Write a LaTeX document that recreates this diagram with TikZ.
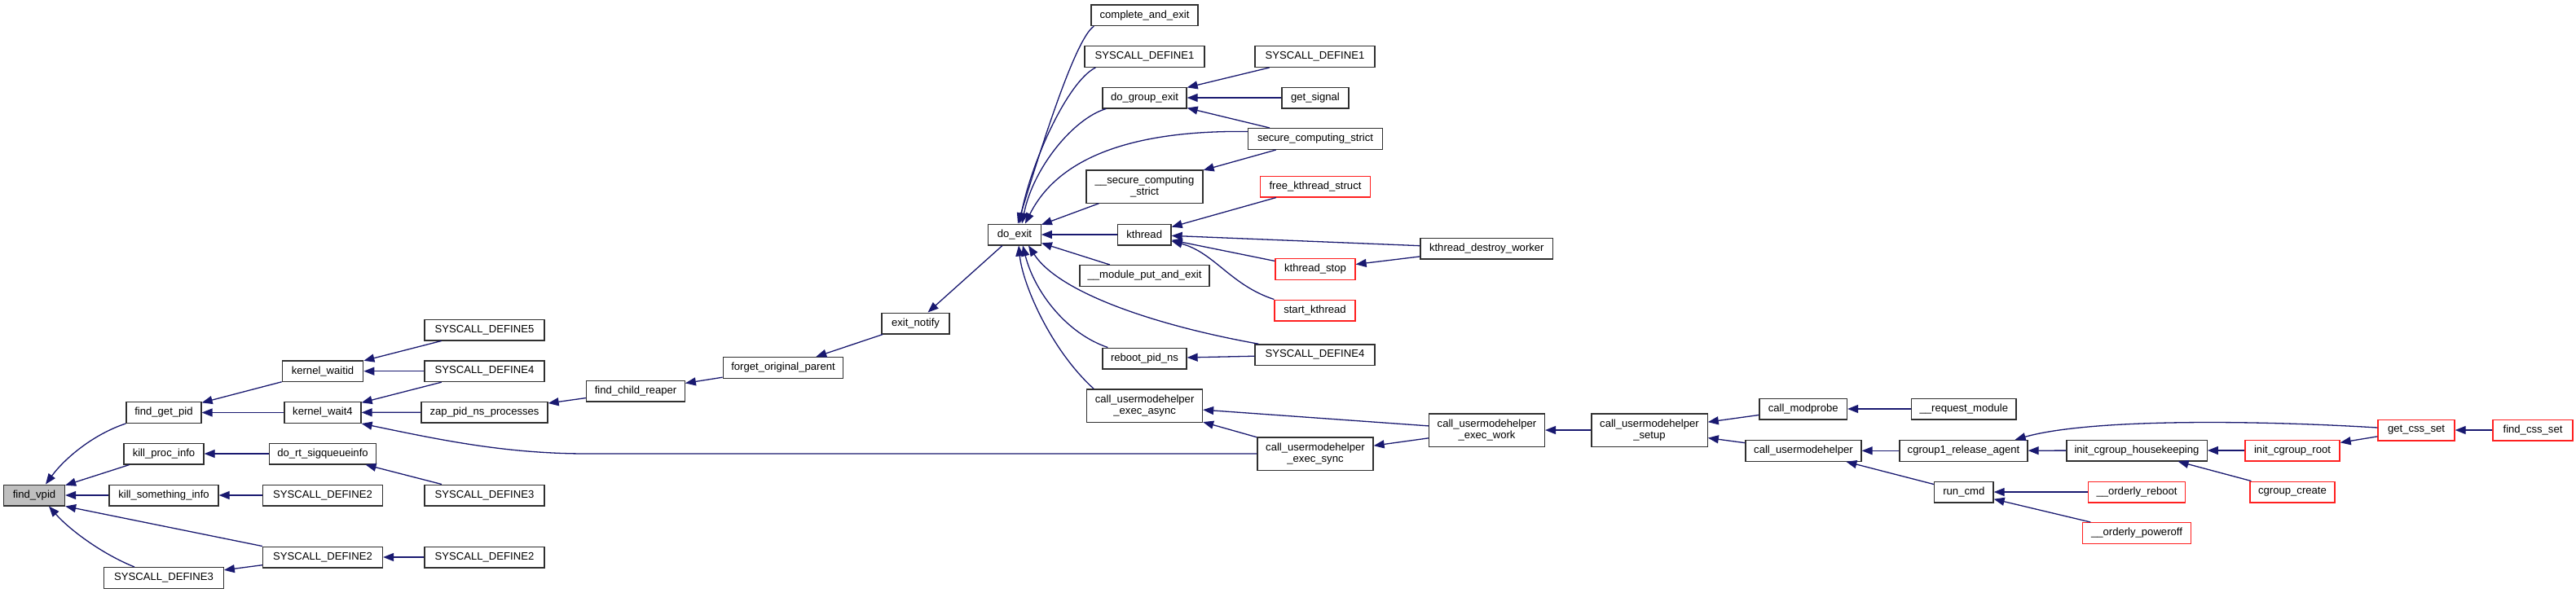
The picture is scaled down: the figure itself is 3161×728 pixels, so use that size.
\documentclass[tikz,border=0pt]{standalone}
\usepackage{fontspec}
\setmainfont{Liberation Sans}
\usetikzlibrary{arrows.meta,calc}
\definecolor{edgeblue}{HTML}{191970}
\definecolor{nodegray}{HTML}{BFBFBF}
\definecolor{trunc}{HTML}{FF2020}
\definecolor{nodeborder}{HTML}{303030}
\begin{document}
\begin{tikzpicture}[x=1pt,y=-1pt,
  fn/.style={draw=nodeborder, line width=1.3pt, fill=white, inner sep=0pt,
    minimum height=25.7pt, font=\fontsize{13.1}{14.5}\selectfont, align=center},
  tr/.style={fn, draw=trunc},
  cur/.style={fn, fill=nodegray},
  tall/.style={minimum height=40.3pt},
  edge/.style={draw=edgeblue, line width=1.3pt, -{Triangle[length=13pt,width=10pt]}}]
\useasboundingbox (0,0) rectangle (3161,728);
\fill[white] (0,0) rectangle (3161,728);

% nodes
\node[cur, minimum width=75pt] (vpid) at (42,608) {find\_vpid};
\node[fn, minimum width=92pt] (getpid) at (201,506.5) {find\_get\_pid};
\node[fn, minimum width=98pt] (killproc) at (201,557) {kill\_proc\_info};
\node[fn, minimum width=134pt] (killsome) at (201,608) {kill\_something\_info};
\node[fn, minimum width=146.5pt] (sd3a) at (201,709.5) {SYSCALL\_DEFINE3};
\node[fn, minimum width=99.5pt] (waitid) at (396,455.7) {kernel\_waitid};
\node[fn, minimum width=94pt] (wait4) at (396,506.5) {kernel\_wait4};
\node[fn, minimum width=131pt] (rtsig) at (396,557) {do\_rt\_sigqueueinfo};
\node[fn, minimum width=147pt] (sd2a) at (396,608) {SYSCALL\_DEFINE2};
\node[fn, minimum width=147pt] (sd2b) at (396,684) {SYSCALL\_DEFINE2};
\node[fn, minimum width=147pt] (sd5) at (594.5,405) {SYSCALL\_DEFINE5};
\node[fn, minimum width=147pt] (sd4a) at (594.5,455.7) {SYSCALL\_DEFINE4};
\node[fn, minimum width=155pt] (zap) at (594.5,506) {zap\_pid\_ns\_processes};
\node[fn, minimum width=147pt] (sd3b) at (594.5,608) {SYSCALL\_DEFINE3};
\node[fn, minimum width=147pt] (sd2c) at (594.5,684) {SYSCALL\_DEFINE2};
\node[fn, minimum width=120.5pt] (reaper) at (780,480) {find\_child\_reaper};
\node[fn, minimum width=147.5pt] (forget) at (961,451.5) {forget\_original\_parent};
\node[fn, minimum width=83pt] (notify) at (1123.5,397) {exit\_notify};
\node[fn, minimum width=64.5pt] (doexit) at (1245,288) {do\_exit};
\node[fn, minimum width=131pt] (complete) at (1404.5,18.7) {complete\_and\_exit};
\node[fn, minimum width=147pt] (sd1a) at (1404.5,69.5) {SYSCALL\_DEFINE1};
\node[fn, minimum width=103pt] (groupexit) at (1404.5,120) {do\_group\_exit};
\node[fn, tall, minimum width=143pt] (usecstrict) at (1404.5,229) {\_\_secure\_computing\\\_strict};
\node[fn, minimum width=65.6pt] (kthread) at (1404.2,288) {kthread};
\node[fn, minimum width=159pt] (modput) at (1404.5,338.5) {\_\_module\_put\_and\_exit};
\node[fn, minimum width=103pt] (reboot) at (1404.5,440) {reboot\_pid\_ns};
\node[fn, tall, minimum width=141.8pt] (async) at (1404.6,498) {call\_usermodehelper\\\_exec\_async};
\node[fn, minimum width=147pt] (sd1b) at (1613.5,69.5) {SYSCALL\_DEFINE1};
\node[fn, minimum width=82pt] (getsignal) at (1614,120) {get\_signal};
\node[fn, minimum width=164.4pt] (secstrict) at (1614,170.5) {secure\_computing\_strict};
\node[tr, minimum width=135.6pt] (freekt) at (1614,229) {free\_kthread\_struct};
\node[tr, minimum width=98pt] (ktstop) at (1614,330.5) {kthread\_stop};
\node[tr, minimum width=99pt] (startkt) at (1613.5,381) {start\_kthread};
\node[fn, minimum width=147pt] (sd4b) at (1613.5,435.7) {SYSCALL\_DEFINE4};
\node[fn, tall, minimum width=142pt] (sync) at (1614,557) {call\_usermodehelper\\\_exec\_sync};
\node[fn, minimum width=162.6pt] (ktdestroy) at (1824.3,305) {kthread\_destroy\_worker};
\node[fn, tall, minimum width=141.8pt] (work) at (1824.5,528) {call\_usermodehelper\\\_exec\_work};
\node[fn, tall, minimum width=142.3pt] (setup) at (2024,528) {call\_usermodehelper\\\_setup};
\node[fn, minimum width=107.5pt] (modprobe) at (2212.7,502) {call\_modprobe};
\node[fn, minimum width=142pt] (umh) at (2213,553.3) {call\_usermodehelper};
\node[fn, minimum width=128.5pt] (reqmod) at (2409.8,502) {\_\_request\_module};
\node[fn, minimum width=157pt] (cg1rel) at (2409.5,553.3) {cgroup1\_release\_agent};
\node[fn, minimum width=72.4pt] (runcmd) at (2409.8,604) {run\_cmd};
\node[fn, minimum width=172.3pt] (housekeep) at (2622,553) {init\_cgroup\_housekeeping};
\node[tr, minimum width=119.5pt] (oreboot) at (2622,604) {\_\_orderly\_reboot};
\node[tr, minimum width=132.5pt] (opoweroff) at (2622,654.5) {\_\_orderly\_poweroff};
\node[tr, minimum width=116pt] (cgroot) at (2813,553) {init\_cgroup\_root};
\node[tr, minimum width=104pt] (cgcreate) at (2813,604) {cgroup\_create};
\node[tr, minimum width=94pt] (getcss) at (2965,528) {get\_css\_set};
\node[tr, minimum width=98pt] (findcss) at (3108,528) {find\_css\_set};

% edges (arrow at the callee)
\draw[edge] (getpid.south west) .. controls (115,533) and (80,562) .. ($(vpid.north)+(14,0)$);
\draw[edge] (killproc) -- (vpid);
\draw[edge] (killsome) -- (vpid);
\draw[edge] (sd2b.north west) -- (vpid.south east);
\draw[edge] ($(sd3a.north)+(-36,0)$) .. controls (125,680) and (85,650) .. ($(vpid.south)+(18,0)$);
\draw[edge] (waitid) -- (getpid);
\draw[edge] (wait4) -- (getpid);
\draw[edge] (rtsig) -- (killproc);
\draw[edge] (sd2a) -- (killsome);
\draw[edge] (sd2b) -- (sd3a);
\draw[edge] (sd5) -- (waitid);
\draw[edge] (sd4a) -- (waitid);
\draw[edge] (sd4a) -- (wait4);
\draw[edge] (zap) -- (wait4);
\draw[edge] (sync.west) -- (720,557) .. controls (620,557) and (540,540) .. (wait4.south east);
\draw[edge] (sd3b) -- (rtsig);
\draw[edge] (sd2c) -- (sd2b);
\draw[edge] (reaper) -- (zap);
\draw[edge] (forget) -- (reaper);
\draw[edge] (notify) -- (forget);
\draw[edge] (doexit) -- (notify);
\draw[edge] ($(complete.south west)+(4,0)$) .. controls (1318,48) and (1272,200) .. ($(doexit.north)+(4,0)$);
\draw[edge] ($(sd1a.south west)+(14,0)$) .. controls (1310,100) and (1265,200) .. ($(doexit.north)+(6,0)$);
\draw[edge] ($(groupexit.south west)+(5,0)$) .. controls (1318,145) and (1268,205) .. ($(doexit.north)+(9,0)$);
\draw[edge] ($(secstrict.west)+(0,-9)$) .. controls (1420,160) and (1305,180) .. ($(doexit.north)+(13,0)$);
\draw[edge] (usecstrict) -- (doexit);
\draw[edge] (kthread) -- (doexit);
\draw[edge] (modput) -- (doexit);
\draw[edge] ($(sd4b.north west)+(5,0)$) .. controls (1420,400) and (1300,360) .. ($(doexit.south)+(17,0)$);
\draw[edge] ($(reboot.north west)+(7,0)$) .. controls (1310,410) and (1270,360) .. ($(doexit.south)+(10,0)$);
\draw[edge] ($(async.north west)+(9,0)$) .. controls (1290,430) and (1255,350) .. ($(doexit.south)+(5,0)$);
\draw[edge] (sd1b) -- (groupexit);
\draw[edge] (getsignal) -- (groupexit);
\draw[edge] (secstrict) -- (groupexit);
\draw[edge] (secstrict) -- (usecstrict);
\draw[edge] (freekt) -- (kthread);
\draw[edge] (ktdestroy) -- (kthread);
\draw[edge] (ktstop) -- (kthread);
\draw[edge] (startkt.north west) .. controls (1510,350) and (1490,310) .. ($(kthread.east)+(0,8)$);
\draw[edge] (ktdestroy) -- (ktstop);
\draw[edge] (sd4b) -- (reboot);
\draw[edge] (work) -- (async);
\draw[edge] (sync) -- (async);
\draw[edge] (work) -- (sync);
\draw[edge] (setup) -- (work);
\draw[edge] (modprobe) -- (setup);
\draw[edge] (umh) -- (setup);
\draw[edge] (reqmod) -- (modprobe);
\draw[edge] (cg1rel) -- (umh);
\draw[edge] (runcmd) -- (umh);
\draw[edge] ($(getcss.west)+(0,-3)$) .. controls (2750,515) and (2560,515) .. ($(cg1rel.north east)+(-16,0)$);
\draw[edge] (housekeep) -- (cg1rel);
\draw[edge] (oreboot) -- (runcmd);
\draw[edge] (opoweroff) -- (runcmd);
\draw[edge] (cgroot) -- (housekeep);
\draw[edge] (cgcreate) -- (housekeep);
\draw[edge] (getcss) -- (cgroot);
\draw[edge] (findcss) -- (getcss);
\end{tikzpicture}
\end{document}
